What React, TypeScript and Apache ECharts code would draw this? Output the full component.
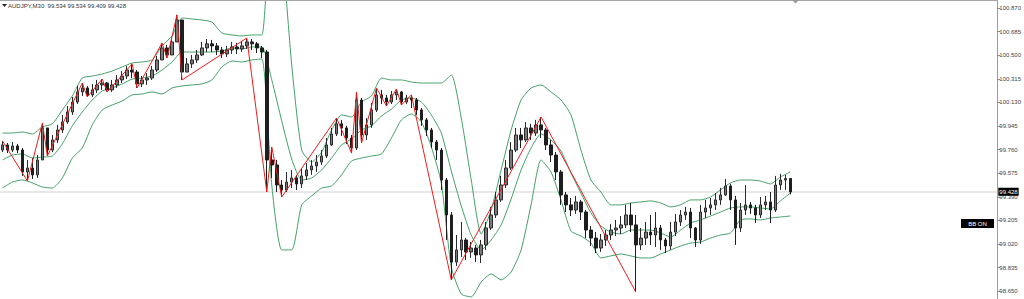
import React, { useEffect, useRef } from "react";
import * as echarts from "echarts";

const SYMBOL_TITLE = "AUDJPY,M30";
const LAST_OHLC = [99.534, 99.534, 99.409, 99.428];
const CURRENT_PRICE = 99.428;
const FIRST_OPEN = 99.757;

const CLOSE = [
  99.797, 99.757, 99.789, 99.757, 99.585, 99.616, 99.562, 99.679, 99.930, 99.757,
  99.836, 99.914, 99.977, 100.055, 100.133, 100.212, 100.243, 100.189, 100.228, 100.267,
  100.282, 100.228, 100.267, 100.306, 100.337, 100.384, 100.368, 100.275, 100.306, 100.321,
  100.384, 100.463, 100.557, 100.502, 100.604, 100.776, 100.368, 100.432, 100.463, 100.502,
  100.557, 100.589, 100.573, 100.541, 100.510, 100.541, 100.565, 100.549, 100.573, 100.604,
  100.589, 100.557, 100.525, 99.679, 99.640, 99.483, 99.444, 99.506, 99.538, 99.491,
  99.554, 99.601, 99.632, 99.663, 99.710, 99.797, 99.883, 99.962, 99.930, 99.851,
  99.773, 100.149, 99.875, 99.954, 100.071, 100.189, 100.165, 100.133, 100.189, 100.212,
  100.133, 100.165, 100.149, 100.071, 99.993, 99.914, 99.820, 99.757, 99.522, 99.248,
  98.879, 98.974, 99.052, 98.958, 98.989, 98.935, 99.013, 99.146, 99.248, 99.366,
  99.483, 99.616, 99.757, 99.875, 99.836, 99.930, 99.890, 99.954, 99.914, 99.797,
  99.718, 99.585, 99.405, 99.327, 99.287, 99.350, 99.271, 99.130, 99.067, 98.989,
  99.052, 99.091, 99.130, 99.146, 99.170, 99.248, 99.170, 99.013, 99.067, 99.114,
  99.091, 99.146, 99.052, 99.005, 99.114, 99.193, 99.248, 99.271, 99.146, 99.052,
  99.271, 99.303, 99.327, 99.366, 99.405, 99.475, 99.366, 99.146, 99.287, 99.327,
  99.303, 99.248, 99.327, 99.350, 99.287, 99.483, 99.522, 99.534, 99.428,
];

const HIGH = [
  99.828, 99.812, 99.820, 99.805, 99.773, 99.679, 99.694, 99.718, 99.969, 99.930,
  99.875, 99.954, 100.032, 100.102, 100.173, 100.259, 100.282, 100.259, 100.275, 100.306,
  100.313, 100.290, 100.306, 100.345, 100.376, 100.416, 100.432, 100.384, 100.337, 100.360,
  100.416, 100.494, 100.596, 100.581, 100.635, 100.816, 100.776, 100.478, 100.502, 100.541,
  100.604, 100.627, 100.620, 100.596, 100.565, 100.573, 100.604, 100.596, 100.612, 100.635,
  100.627, 100.604, 100.573, 100.541, 99.781, 99.679, 99.522, 99.585, 99.601, 99.562,
  99.616, 99.655, 99.679, 99.718, 99.757, 99.851, 99.930, 100.008, 99.993, 99.946,
  99.875, 100.212, 100.165, 100.008, 100.125, 100.243, 100.228, 100.189, 100.220, 100.235,
  100.220, 100.189, 100.189, 100.165, 100.086, 100.008, 99.930, 99.836, 99.773, 99.538,
  99.271, 99.091, 99.193, 99.067, 99.036, 99.013, 99.052, 99.193, 99.311, 99.428,
  99.554, 99.679, 99.820, 99.930, 99.930, 99.977, 99.962, 99.993, 100.016, 99.930,
  99.836, 99.741, 99.601, 99.428, 99.381, 99.397, 99.366, 99.287, 99.162, 99.114,
  99.099, 99.130, 99.178, 99.209, 99.240, 99.327, 99.342, 99.248, 99.146, 99.193,
  99.248, 99.271, 99.170, 99.067, 99.193, 99.256, 99.287, 99.311, 99.303, 99.154,
  99.327, 99.366, 99.381, 99.420, 99.460, 99.530, 99.491, 99.397, 99.342, 99.483,
  99.350, 99.327, 99.389, 99.397, 99.428, 99.554, 99.570, 99.562, 99.534,
];

const LOW = [
  99.741, 99.733, 99.741, 99.733, 99.554, 99.514, 99.530, 99.538, 99.679, 99.710,
  99.741, 99.812, 99.890, 99.962, 100.032, 100.118, 100.181, 100.173, 100.173, 100.204,
  100.228, 100.212, 100.212, 100.243, 100.282, 100.313, 100.321, 100.243, 100.251, 100.267,
  100.306, 100.368, 100.463, 100.478, 100.502, 100.604, 100.306, 100.368, 100.400, 100.439,
  100.494, 100.525, 100.525, 100.502, 100.478, 100.486, 100.510, 100.510, 100.525, 100.549,
  100.541, 100.517, 100.478, 99.428, 99.538, 99.428, 99.389, 99.428, 99.459, 99.444,
  99.459, 99.522, 99.562, 99.585, 99.640, 99.694, 99.789, 99.867, 99.867, 99.805,
  99.733, 99.757, 99.812, 99.836, 99.930, 100.055, 100.118, 100.102, 100.118, 100.149,
  100.110, 100.118, 100.086, 100.032, 99.946, 99.867, 99.773, 99.679, 99.444, 99.052,
  98.739, 98.848, 98.919, 98.895, 98.911, 98.879, 98.871, 98.974, 99.130, 99.224,
  99.350, 99.459, 99.601, 99.741, 99.773, 99.820, 99.836, 99.867, 99.851, 99.757,
  99.663, 99.522, 99.327, 99.271, 99.240, 99.256, 99.209, 99.067, 99.005, 98.950,
  98.958, 99.005, 99.052, 99.083, 99.099, 99.146, 99.114, 98.644, 98.974, 99.013,
  99.013, 98.997, 98.974, 98.950, 98.974, 99.083, 99.162, 99.209, 99.067, 98.997,
  99.021, 99.224, 99.248, 99.287, 99.327, 99.397, 99.287, 99.013, 99.114, 99.248,
  99.256, 99.185, 99.224, 99.287, 99.185, 99.271, 99.444, 99.444, 99.409,
];

const ZZ_INDEX = [0, 5, 8, 9, 16, 17, 20, 21, 26, 27, 32, 33, 35, 36, 49, 53, 54, 56, 67, 70, 71, 72, 75, 77, 79, 80, 82, 90, 108, 127];
const ZZ_PRICE = [
  99.828, 99.514, 99.969, 99.710, 100.282, 100.173, 100.313, 100.212, 100.432, 100.243,
  100.596, 100.478, 100.816, 100.306, 100.635, 99.428, 99.781, 99.389, 100.008, 99.733,
  100.212, 99.812, 100.243, 100.102, 100.235, 100.110, 100.189, 98.739, 100.016, 98.644,
];

const BAND_STEP = 2;
const BB_UPPER = [
  99.890, 99.890, 99.898, 99.883, 99.938, 99.962, 100.071, 100.181, 100.321, 100.337,
  100.353, 100.376, 100.408, 100.439, 100.447, 100.463, 100.573, 100.651, 100.792, 100.784,
  100.776, 100.760, 100.674, 100.659, 100.651, 100.659, 100.659, 101.638, 101.325, 100.424,
  99.757, 99.663, 99.741, 99.914, 100.032, 100.016, 100.133, 100.181, 100.321, 100.306,
  100.306, 100.290, 100.282, 100.282, 100.282, 100.345, 100.008, 99.522, 99.099, 99.287,
  99.601, 99.914, 100.149, 100.243, 100.267, 100.212, 100.149, 100.032, 99.757, 99.522,
  99.428, 99.327, 99.327, 99.342, 99.350, 99.358, 99.342, 99.311, 99.327, 99.366,
  99.366, 99.389, 99.444, 99.499, 99.522, 99.522, 99.514, 99.491, 99.546, 99.585,
];
const BB_MIDDLE = [
  99.679, 99.718, 99.726, 99.694, 99.702, 99.710, 99.805, 99.946, 100.055, 100.149,
  100.220, 100.243, 100.275, 100.313, 100.321, 100.337, 100.384, 100.447, 100.525, 100.525,
  100.525, 100.525, 100.533, 100.557, 100.549, 100.565, 100.565, 100.306, 99.985, 99.686,
  99.522, 99.538, 99.601, 99.694, 99.797, 99.844, 99.914, 99.946, 100.024, 100.078,
  100.149, 100.165, 100.133, 100.032, 99.890, 99.593, 99.319, 99.091, 98.974, 99.052,
  99.170, 99.373, 99.601, 99.773, 99.883, 99.836, 99.749, 99.577, 99.420, 99.264,
  99.162, 99.114, 99.099, 99.130, 99.130, 99.130, 99.107, 99.075, 99.130, 99.185,
  99.209, 99.240, 99.271, 99.303, 99.311, 99.311, 99.303, 99.295, 99.358, 99.420,
];
const BB_LOWER = [
  99.459, 99.506, 99.522, 99.499, 99.467, 99.459, 99.538, 99.694, 99.773, 99.954,
  100.071, 100.110, 100.141, 100.189, 100.196, 100.212, 100.196, 100.243, 100.259, 100.267,
  100.275, 100.306, 100.408, 100.455, 100.447, 100.463, 100.471, 99.483, 98.974, 98.974,
  99.327, 99.397, 99.459, 99.475, 99.562, 99.671, 99.694, 99.710, 99.726, 99.851,
  99.993, 100.040, 99.977, 99.781, 99.499, 98.840, 98.629, 98.606, 98.723, 98.786,
  98.739, 98.801, 98.974, 99.327, 99.679, 99.585, 99.366, 99.122, 99.083, 99.028,
  98.911, 98.927, 98.942, 98.927, 98.911, 98.911, 98.942, 98.974, 99.005, 99.028,
  99.036, 99.067, 99.091, 99.107, 99.209, 99.217, 99.209, 99.224, 99.232, 99.240,
];

const PRICE_TICKS = [100.87, 100.685, 100.5, 100.315, 100.13, 99.945, 99.76, 99.575, 99.39, 99.205, 99.02, 98.835, 98.65];
const SLOT_COUNT = 200;
const Y_MIN = 98.5894;
const Y_MAX = 100.9327;

const BAND_COLOR = "#44a068";
const FONT = "Liberation Sans";

export default function App() {
  const ref = useRef<HTMLDivElement>(null);

  useEffect(() => {
    if (!ref.current) return;
    const chart = echarts.init(ref.current, undefined, { renderer: "svg" });

    const categories = Array.from({ length: SLOT_COUNT }, (_, i) => String(i));
    const candles = CLOSE.map((c, i) => [i === 0 ? FIRST_OPEN : CLOSE[i - 1], c, LOW[i], HIGH[i]]);
    const band = (arr: number[]) => arr.map((v, k) => [k * BAND_STEP, v]);
    const zigzag = ZZ_INDEX.map((ix, k) => [ix, ZZ_PRICE[k]]);

    const bandSeries = (name: string, arr: number[]) => ({
      name,
      type: "line",
      data: band(arr),
      symbol: "none",
      smooth: 0.2,
      clip: true,
      silent: true,
      lineStyle: { color: BAND_COLOR, width: 1 },
      z: 2,
    });

    const title = `${SYMBOL_TITLE}  ${LAST_OHLC.map((v) => v.toFixed(3)).join(" ")}`;

    chart.setOption({
      animation: false,
      backgroundColor: "#ffffff",
      grid: { left: 0, right: 26, top: 0, bottom: 0, containLabel: false },
      xAxis: {
        type: "category",
        data: categories,
        boundaryGap: true,
        show: false,
      },
      yAxis: {
        type: "value",
        position: "right",
        min: Y_MIN,
        max: Y_MAX,
        splitLine: { show: false },
        axisLine: { show: true, lineStyle: { color: "#9a9a9a", width: 1 } },
        axisTick: {
          show: true,
          customValues: PRICE_TICKS,
          length: 3,
          lineStyle: { color: "#8a8a8a" },
        },
        axisLabel: {
          show: true,
          customValues: PRICE_TICKS,
          formatter: (v: number) => Number(v).toFixed(3),
          fontSize: 6,
          fontFamily: FONT,
          color: "#444",
          margin: 2,
        },
      },
      series: [
        bandSeries("upper", BB_UPPER),
        bandSeries("middle", BB_MIDDLE),
        bandSeries("lower", BB_LOWER),
        {
          name: "AUDJPY",
          type: "candlestick",
          data: candles,
          barWidth: 3,
          silent: true,
          z: 3,
          itemStyle: {
            color: "#7a7a7a",
            color0: "#1e1e1e",
            borderColor: "#2a2a2a",
            borderColor0: "#1e1e1e",
            borderWidth: 1,
          },
          markLine: {
            silent: true,
            symbol: ["none", "none"],
            z: 1,
            lineStyle: { color: "#e0e0e0", width: 1.5, type: "solid" },
            label: {
              show: true,
              position: "end",
              distance: 1,
              formatter: CURRENT_PRICE.toFixed(3),
              color: "#fff",
              backgroundColor: "#000",
              fontSize: 6,
              fontFamily: FONT,
              padding: [1, 1, 1, 1],
            },
            data: [{ yAxis: CURRENT_PRICE }],
          },
        },
        {
          name: "zigzag",
          type: "line",
          data: zigzag,
          symbol: "none",
          silent: true,
          clip: true,
          lineStyle: { color: "#ee1c1c", width: 1 },
          z: 4,
        },
      ],
      graphic: [
        {
          type: "line",
          shape: { x1: 0, y1: 0.5, x2: 998, y2: 0.5 },
          style: { stroke: "#a6a6a6", lineWidth: 1 },
          z: 10,
        },
        {
          type: "polygon",
          shape: { points: [[2, 4], [7, 4], [4.5, 7]] },
          style: { fill: "#222" },
          z: 10,
        },
        {
          type: "text",
          x: 8,
          y: 6,
          style: {
            text: title,
            fontSize: 6,
            fontFamily: FONT,
            fill: "#333",
            verticalAlign: "middle",
            align: "left",
          },
          z: 10,
        },
        {
          type: "polygon",
          shape: { points: [[792, 0], [799, 0], [795.5, 3.5]] },
          style: { fill: "#9a9a9a" },
          z: 10,
        },
        {
          type: "rect",
          shape: { x: 961, y: 219, width: 33, height: 9 },
          style: { fill: "#000" },
          z: 10,
        },
        {
          type: "text",
          x: 977.5,
          y: 223.8,
          style: {
            text: "BB ON",
            fontSize: 6,
            fontFamily: FONT,
            fill: "#fff",
            align: "center",
            verticalAlign: "middle",
          },
          z: 11,
        },
      ],
    });

    return () => {
      chart.dispose();
    };
  }, []);

  return (
    <div
      ref={ref}
      style={{ position: "fixed", left: 0, top: 0, width: 1024, height: 299, background: "#fff" }}
    />
  );
}
